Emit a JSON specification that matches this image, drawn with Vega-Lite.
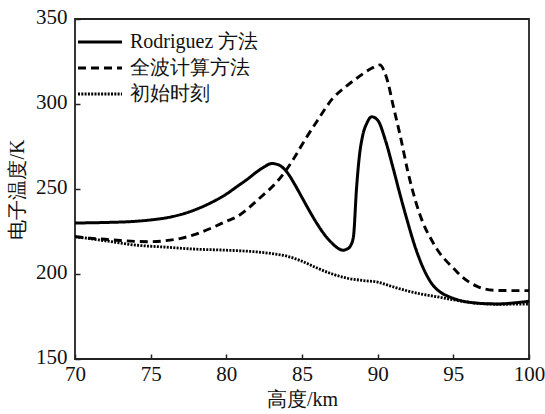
{
  "$schema": "https://vega.github.io/schema/vega-lite/v6.json",
  "width": 454,
  "height": 340,
  "autosize": {"type": "none"},
  "padding": {"left": 75, "top": 19, "right": 16, "bottom": 55},
  "background": "white",
  "config": {
    "view": {"stroke": "#222", "strokeWidth": 1.8},
    "font": "Liberation Serif",
    "axis": {
      "domain": false,
      "grid": false,
      "tickColor": "#222",
      "tickWidth": 1.5,
      "tickSize": -5,
      "labelFont": "Liberation Serif",
      "labelFontSize": 21,
      "labelColor": "#111",
      "titleFont": "Liberation Serif",
      "titleFontSize": 20,
      "titleFontWeight": "normal",
      "titleColor": "#111"
    }
  },
  "data": {
    "values": [
      {"h": 70, "T": 230, "s": "Rodriguez 方法"},
      {"h": 72, "T": 230.3, "s": "Rodriguez 方法"},
      {"h": 74, "T": 231, "s": "Rodriguez 方法"},
      {"h": 75, "T": 231.8, "s": "Rodriguez 方法"},
      {"h": 76, "T": 233, "s": "Rodriguez 方法"},
      {"h": 77, "T": 235, "s": "Rodriguez 方法"},
      {"h": 78, "T": 238, "s": "Rodriguez 方法"},
      {"h": 79, "T": 242, "s": "Rodriguez 方法"},
      {"h": 80, "T": 247, "s": "Rodriguez 方法"},
      {"h": 80.7, "T": 251.4, "s": "Rodriguez 方法"},
      {"h": 81.5, "T": 256.5, "s": "Rodriguez 方法"},
      {"h": 82, "T": 260, "s": "Rodriguez 方法"},
      {"h": 82.5, "T": 263, "s": "Rodriguez 方法"},
      {"h": 83, "T": 265, "s": "Rodriguez 方法"},
      {"h": 83.5, "T": 264, "s": "Rodriguez 方法"},
      {"h": 84, "T": 260, "s": "Rodriguez 方法"},
      {"h": 84.5, "T": 253, "s": "Rodriguez 方法"},
      {"h": 85, "T": 245, "s": "Rodriguez 方法"},
      {"h": 85.5, "T": 237, "s": "Rodriguez 方法"},
      {"h": 86, "T": 229.5, "s": "Rodriguez 方法"},
      {"h": 86.5, "T": 223, "s": "Rodriguez 方法"},
      {"h": 87, "T": 218, "s": "Rodriguez 方法"},
      {"h": 87.4, "T": 215, "s": "Rodriguez 方法"},
      {"h": 87.7, "T": 214, "s": "Rodriguez 方法"},
      {"h": 88, "T": 214.8, "s": "Rodriguez 方法"},
      {"h": 88.2, "T": 216.5, "s": "Rodriguez 方法"},
      {"h": 88.4, "T": 222, "s": "Rodriguez 方法"},
      {"h": 88.6, "T": 250, "s": "Rodriguez 方法"},
      {"h": 88.8, "T": 270, "s": "Rodriguez 方法"},
      {"h": 89, "T": 281, "s": "Rodriguez 方法"},
      {"h": 89.3, "T": 289, "s": "Rodriguez 方法"},
      {"h": 89.6, "T": 292.5, "s": "Rodriguez 方法"},
      {"h": 90, "T": 290.5, "s": "Rodriguez 方法"},
      {"h": 90.5, "T": 279, "s": "Rodriguez 方法"},
      {"h": 91, "T": 263, "s": "Rodriguez 方法"},
      {"h": 91.5, "T": 246, "s": "Rodriguez 方法"},
      {"h": 92, "T": 230, "s": "Rodriguez 方法"},
      {"h": 92.4, "T": 218, "s": "Rodriguez 方法"},
      {"h": 92.8, "T": 208, "s": "Rodriguez 方法"},
      {"h": 93.2, "T": 200, "s": "Rodriguez 方法"},
      {"h": 93.6, "T": 194, "s": "Rodriguez 方法"},
      {"h": 94.1, "T": 189.6, "s": "Rodriguez 方法"},
      {"h": 94.5, "T": 187.5, "s": "Rodriguez 方法"},
      {"h": 95, "T": 185.7, "s": "Rodriguez 方法"},
      {"h": 95.5, "T": 184.3, "s": "Rodriguez 方法"},
      {"h": 96.3, "T": 183.1, "s": "Rodriguez 方法"},
      {"h": 97, "T": 182.6, "s": "Rodriguez 方法"},
      {"h": 98, "T": 182.4, "s": "Rodriguez 方法"},
      {"h": 99, "T": 183, "s": "Rodriguez 方法"},
      {"h": 100, "T": 184, "s": "Rodriguez 方法"},

      {"h": 70, "T": 222, "s": "全波计算方法"},
      {"h": 71, "T": 221, "s": "全波计算方法"},
      {"h": 72, "T": 220.4, "s": "全波计算方法"},
      {"h": 73, "T": 219.7, "s": "全波计算方法"},
      {"h": 74, "T": 219.2, "s": "全波计算方法"},
      {"h": 75, "T": 219, "s": "全波计算方法"},
      {"h": 76, "T": 219.6, "s": "全波计算方法"},
      {"h": 77, "T": 221, "s": "全波计算方法"},
      {"h": 78, "T": 223.5, "s": "全波计算方法"},
      {"h": 79, "T": 227, "s": "全波计算方法"},
      {"h": 80, "T": 231, "s": "全波计算方法"},
      {"h": 80.7, "T": 233.7, "s": "全波计算方法"},
      {"h": 81.5, "T": 239, "s": "全波计算方法"},
      {"h": 82, "T": 243, "s": "全波计算方法"},
      {"h": 82.5, "T": 247, "s": "全波计算方法"},
      {"h": 83, "T": 251, "s": "全波计算方法"},
      {"h": 83.8, "T": 259.2, "s": "全波计算方法"},
      {"h": 84.5, "T": 268.5, "s": "全波计算方法"},
      {"h": 85.2, "T": 279, "s": "全波计算方法"},
      {"h": 86, "T": 290, "s": "全波计算方法"},
      {"h": 87, "T": 303, "s": "全波计算方法"},
      {"h": 88, "T": 311, "s": "全波计算方法"},
      {"h": 88.6, "T": 315, "s": "全波计算方法"},
      {"h": 89.6, "T": 321, "s": "全波计算方法"},
      {"h": 90.15, "T": 323, "s": "全波计算方法"},
      {"h": 90.4, "T": 320, "s": "全波计算方法"},
      {"h": 90.7, "T": 312, "s": "全波计算方法"},
      {"h": 91, "T": 300, "s": "全波计算方法"},
      {"h": 91.5, "T": 281, "s": "全波计算方法"},
      {"h": 92, "T": 260, "s": "全波计算方法"},
      {"h": 92.5, "T": 243, "s": "全波计算方法"},
      {"h": 93, "T": 230, "s": "全波计算方法"},
      {"h": 93.5, "T": 221, "s": "全波计算方法"},
      {"h": 94, "T": 213.5, "s": "全波计算方法"},
      {"h": 94.5, "T": 208, "s": "全波计算方法"},
      {"h": 95, "T": 203.5, "s": "全波计算方法"},
      {"h": 95.5, "T": 199, "s": "全波计算方法"},
      {"h": 96, "T": 195.5, "s": "全波计算方法"},
      {"h": 96.5, "T": 193, "s": "全波计算方法"},
      {"h": 97, "T": 191.3, "s": "全波计算方法"},
      {"h": 98, "T": 190.3, "s": "全波计算方法"},
      {"h": 100, "T": 190.2, "s": "全波计算方法"},

      {"h": 70, "T": 222, "s": "初始时刻"},
      {"h": 72, "T": 219.5, "s": "初始时刻"},
      {"h": 74, "T": 217, "s": "初始时刻"},
      {"h": 76, "T": 215.8, "s": "初始时刻"},
      {"h": 78, "T": 214.6, "s": "初始时刻"},
      {"h": 80, "T": 214, "s": "初始时刻"},
      {"h": 82, "T": 213, "s": "初始时刻"},
      {"h": 83, "T": 212, "s": "初始时刻"},
      {"h": 84, "T": 210.5, "s": "初始时刻"},
      {"h": 85, "T": 207.5, "s": "初始时刻"},
      {"h": 86, "T": 203.5, "s": "初始时刻"},
      {"h": 87, "T": 200, "s": "初始时刻"},
      {"h": 88, "T": 197.5, "s": "初始时刻"},
      {"h": 89, "T": 196.2, "s": "初始时刻"},
      {"h": 90, "T": 195.2, "s": "初始时刻"},
      {"h": 91, "T": 192.5, "s": "初始时刻"},
      {"h": 92, "T": 190, "s": "初始时刻"},
      {"h": 93, "T": 188, "s": "初始时刻"},
      {"h": 94, "T": 186.5, "s": "初始时刻"},
      {"h": 95, "T": 184.8, "s": "初始时刻"},
      {"h": 96, "T": 183.4, "s": "初始时刻"},
      {"h": 97, "T": 182.5, "s": "初始时刻"},
      {"h": 98, "T": 182.2, "s": "初始时刻"},
      {"h": 100, "T": 182.3, "s": "初始时刻"}
    ]
  },
  "mark": {"type": "line", "interpolate": "monotone", "color": "#000", "clip": true},
  "encoding": {
    "x": {
      "field": "h", "type": "quantitative",
      "scale": {"domain": [70, 100], "nice": false, "zero": false},
      "axis": {"title": "高度/km", "values": [70, 75, 80, 85, 90, 95, 100], "labelPadding": 9, "titlePadding": 5, "labelFlush": false}
    },
    "y": {
      "field": "T", "type": "quantitative",
      "scale": {"domain": [150, 350], "nice": false, "zero": false},
      "axis": {"title": "电子温度/K", "values": [150, 200, 250, 300, 350], "labelPadding": 13, "labelOffset": -2, "titlePadding": 8, "labelFlush": false}
    },
    "strokeDash": {
      "field": "s", "type": "nominal",
      "scale": {"domain": ["Rodriguez 方法", "全波计算方法", "初始时刻"], "range": [[1, 0], [8, 5], [2, 1.3]]},
      "legend": {
        "title": null,
        "orient": "none",
        "legendX": 15,
        "legendY": 13,
        "padding": 0,
        "symbolType": "M-4,0H4",
        "symbolSize": 121,
        "symbolStrokeWidth": 2.8,
        "symbolStrokeColor": "#000",
        "symbolFillColor": "transparent",
        "labelOffset": 20,
        "labelFont": "Liberation Serif",
        "labelFontSize": 20,
        "labelColor": "#111",
        "rowPadding": 6
      }
    },
    "strokeWidth": {
      "field": "s", "type": "nominal",
      "scale": {"domain": ["Rodriguez 方法", "全波计算方法", "初始时刻"], "range": [3, 2.8, 2.5]},
      "legend": null
    }
  }
}
